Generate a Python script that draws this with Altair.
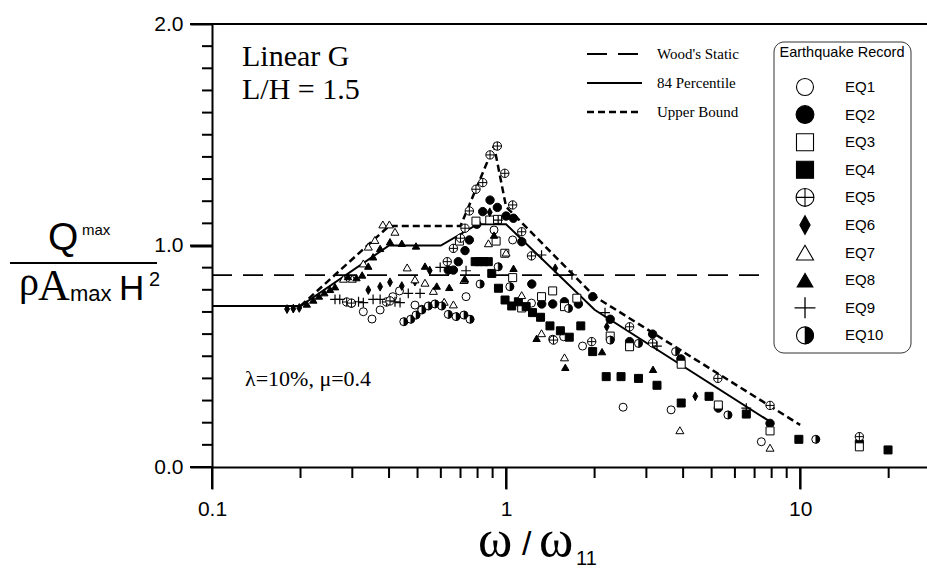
import altair as alt
import pandas as pd

W, H = 715, 443

# ---------------- data ----------------
EQ1_X = [0.298, 0.327, 0.350, 0.373, 0.412, 0.434, 0.490, 0.517, 0.731, 0.91, 1.053, 1.22, 1.44, 1.57, 1.82, 2.5, 3.64, 7.38]
EQ1_Y = [0.739, 0.701, 0.668, 0.709, 0.769, 0.795, 0.731, 0.712, 0.769, 1.07, 1.025, 0.74, 0.577, 0.588, 0.546, 0.27, 0.258, 0.114]

EQ2_X = [0.636, 0.662, 0.688, 0.725, 0.750, 0.795, 0.833, 0.882, 0.934, 1.0, 1.059, 1.131, 1.223, 1.322, 1.441, 1.579, 1.762, 1.971, 2.26, 2.63, 3.15, 3.93, 5.27, 7.9, 15.9]
EQ2_Y = [0.889, 0.889, 0.927, 0.977, 1.025, 1.096, 1.153, 1.205, 1.172, 1.133, 1.123, 1.017, 0.826, 0.736, 0.736, 0.746, 0.736, 0.769, 0.667, 0.566, 0.60, 0.488, 0.266, 0.197, 0.114]

EQ3_X = [0.694, 0.79, 0.88, 0.935, 0.925, 0.99, 1.053, 1.13, 1.32, 1.44, 1.58, 1.74, 2.26, 2.63, 3.94, 5.27, 7.9, 15.9]
EQ3_Y = [1.02, 1.11, 1.115, 1.118, 1.02, 0.965, 0.855, 0.718, 0.769, 0.795, 0.724, 0.762, 0.591, 0.543, 0.464, 0.28, 0.163, 0.091]

EQ4_X = [0.785, 0.81, 0.84, 0.87, 0.894, 0.942, 0.992, 1.045, 1.101, 1.17, 1.23, 1.31, 1.41, 1.53, 1.64, 1.795, 1.97, 2.19, 2.46, 2.82, 3.26, 3.94, 4.9, 6.56, 9.9, 19.9]
EQ4_Y = [0.927, 0.927, 0.927, 0.927, 0.874, 0.807, 0.754, 0.727, 0.746, 0.724, 0.697, 0.676, 0.637, 0.615, 0.586, 0.637, 0.521, 0.408, 0.408, 0.40, 0.369, 0.289, 0.319, 0.239, 0.125, 0.077]

EQ5_X = [0.287, 0.298, 0.392, 0.403, 0.631, 0.662, 0.70, 0.725, 0.75, 0.79, 0.833, 0.882, 0.934, 0.99, 1.053, 1.13, 1.22, 1.45, 1.955, 2.63, 3.15, 5.25, 7.9, 15.9]
EQ5_Y = [0.745, 0.74, 0.745, 0.75, 0.927, 0.987, 1.033, 1.078, 1.156, 1.254, 1.284, 1.409, 1.449, 1.326, 1.183, 1.062, 0.953, 0.573, 0.566, 0.633, 0.56, 0.40, 0.278, 0.137]

EQ6_X = [0.180, 0.189, 0.198, 0.340, 0.373, 0.403, 0.442, 0.490, 0.55, 0.88, 1.47, 2.2, 4.4]
EQ6_Y = [0.713, 0.715, 0.718, 0.799, 0.814, 0.834, 0.817, 0.837, 0.887, 1.15, 0.897, 0.633, 0.319]

EQ7_X = [0.28, 0.30, 0.381, 0.401, 0.419, 0.358, 0.340, 0.327, 0.461, 0.490, 0.530, 0.566, 0.616, 0.662, 0.719, 0.871, 1.0, 1.13, 1.32, 1.58, 3.9, 7.9]
EQ7_Y = [0.85, 0.85, 1.095, 1.095, 1.062, 1.025, 0.995, 0.919, 0.901, 0.847, 0.832, 0.795, 0.746, 0.734, 0.844, 1.01, 0.968, 0.776, 0.604, 0.495, 0.166, 0.087]

EQ8_X = [0.210, 0.221, 0.231, 0.241, 0.252, 0.262, 0.29, 0.31, 0.324, 0.340, 0.353, 0.373, 0.403, 0.442, 0.494, 0.530, 0.581, 0.641, 0.725, 0.91, 1.06, 1.27, 1.59, 2.12, 3.16, 6.56]
EQ8_Y = [0.736, 0.754, 0.772, 0.787, 0.802, 0.814, 0.86, 0.855, 0.867, 0.907, 0.949, 0.987, 1.017, 1.01, 0.998, 0.907, 0.817, 0.811, 0.849, 1.047, 0.897, 0.581, 0.45, 0.521, 0.441, 0.244]

EQ9_X = [0.262, 0.272, 0.315, 0.327, 0.353, 0.373, 0.419, 0.436, 0.465, 0.510, 0.597, 0.731, 0.94, 1.32, 1.675, 2.17, 3.26, 6.56]
EQ9_Y = [0.757, 0.757, 0.746, 0.742, 0.757, 0.757, 0.746, 0.742, 0.784, 0.784, 0.901, 0.886, 1.115, 0.957, 0.867, 0.697, 0.546, 0.266]

EQ10_X = [0.449, 0.474, 0.494, 0.517, 0.544, 0.573, 0.604, 0.636, 0.676, 0.719, 0.754, 0.816, 0.94, 1.03, 1.63, 2.26, 2.82, 3.77, 5.68, 11.3]
EQ10_Y = [0.656, 0.667, 0.686, 0.709, 0.727, 0.736, 0.727, 0.689, 0.679, 0.686, 0.667, 0.826, 0.904, 0.814, 0.716, 0.573, 0.558, 0.521, 0.235, 0.125]

WOOD_X = [0.1, 7.3]
WOOD_Y = [0.866, 0.866]
P84_X = [0.1, 0.2, 0.4, 0.6, 0.8, 1.0, 2.0, 8.0]
P84_Y = [0.727, 0.727, 1.0, 1.0, 1.096, 1.096, 0.71, 0.2]
UB_X = [0.2, 0.4, 0.7, 0.91, 1.0, 2.0, 10.0]
UB_Y = [0.727, 1.088, 1.088, 1.45, 1.175, 0.77, 0.19]

X_MAJOR = [0.1, 1, 10]
X_MINOR = [0.2, 0.3, 0.4, 0.5, 0.6, 0.7, 0.8, 0.9, 2, 3, 4, 5, 6, 7, 8, 9, 20]
Y_MAJOR = [0.0, 1.0, 2.0]
Y_MINOR = [0.1, 0.2, 0.3, 0.4, 0.5, 0.6, 0.7, 0.8, 0.9,
           1.1, 1.2, 1.3, 1.4, 1.5, 1.6, 1.7, 1.8, 1.9]

LINE_LABELS = ["Wood's Static", "84 Percentile", "Upper Bound"]
EQ_LABELS = ["EQ1", "EQ2", "EQ3", "EQ4", "EQ5", "EQ6", "EQ7", "EQ8", "EQ9", "EQ10"]

SERIES = {
    "EQ1": (EQ1_X, EQ1_Y), "EQ2": (EQ2_X, EQ2_Y), "EQ3": (EQ3_X, EQ3_Y),
    "EQ4": (EQ4_X, EQ4_Y), "EQ5": (EQ5_X, EQ5_Y), "EQ6": (EQ6_X, EQ6_Y),
    "EQ7": (EQ7_X, EQ7_Y), "EQ8": (EQ8_X, EQ8_Y), "EQ9": (EQ9_X, EQ9_Y),
    "EQ10": (EQ10_X, EQ10_Y),
}

SERIF = "Liberation Serif"
SANS = "Liberation Sans"

# ---------------- scales / axes ----------------
xaxis = alt.Axis(
    values=X_MAJOR, format="~g", ticks=True, tickSize=22,
    labelPadding=9, labelFont=SANS, labelFontSize=21, labelColor="black",
    labelFlush=False, labelOverlap=False, labelBaseline="top",
    domainColor="black", domainWidth=2, tickColor="black", tickWidth=2,
    grid=False, title=None,
)
yaxis = alt.Axis(
    values=Y_MAJOR, format=".1f", ticks=True, tickSize=22,
    labelPadding=7, labelFont=SANS, labelFontSize=21, labelColor="black",
    labelFlush=False, labelOverlap=False,
    domainColor="black", domainWidth=2, tickColor="black", tickWidth=2,
    grid=False, title=None,
)
XSC = alt.Scale(type="log", domain=[0.1, 27], nice=False)
YSC = alt.Scale(domain=[0, 2], nice=False, zero=False)
X = alt.X("x:Q", scale=XSC, axis=xaxis)
Y = alt.Y("y:Q", scale=YSC, axis=yaxis)


def line_df(xs, ys):
    return pd.DataFrame({"x": xs, "y": ys})


layers = []

# tick marks placed through the scales, centred half a tick length outside the axis line
def hticks(vals, length):
    return alt.Chart(pd.DataFrame({"y": vals})).mark_tick(
        orient="horizontal", size=length, thickness=2, color="black", opacity=1, clip=False
    ).encode(y=Y, x=alt.value(-length / 2))


def vticks(vals, length):
    return alt.Chart(pd.DataFrame({"x": vals})).mark_tick(
        orient="vertical", size=length, thickness=2, color="black", opacity=1, clip=False
    ).encode(x=X, y=alt.value(H + length / 2))


layers.append(hticks(Y_MINOR, 10))
layers.append(hticks(Y_MAJOR, 22))
layers.append(vticks(X_MINOR, 11))
layers.append(vticks(X_MAJOR, 22))

layers.append(alt.Chart(line_df(WOOD_X, WOOD_Y)).mark_line(color="black", strokeWidth=1.8, strokeDash=[20, 11]).encode(x=X, y=Y))
layers.append(alt.Chart(line_df(P84_X, P84_Y)).mark_line(color="black", strokeWidth=2).encode(x=X, y=Y))
layers.append(alt.Chart(line_df(UB_X, UB_Y)).mark_line(color="black", strokeWidth=2.5, strokeDash=[7, 4]).encode(x=X, y=Y))

CIRCLE_PLUS = "M-1,0A1,1,0,1,1,1,0A1,1,0,1,1,-1,0ZM-1,0L1,0M0,-1L0,1"
PLUS = "M-1,0L1,0M0,-1L0,1"
DIAMOND = "M0,-1L0.55,0L0,1L-0.55,0Z"
RIGHT_HALF = "M0,-1A1,1,0,0,1,0,1Z"

# style: list of (shape, fill, stroke, strokeWidth, size factor)
STYLE = {
    "EQ1": [("circle", "white", "black", 1, 1.0)],
    "EQ2": [("circle", "black", "black", 1, 1.1)],
    "EQ3": [("square", "white", "black", 1, 1.0)],
    "EQ4": [("square", "black", "black", 1, 1.0)],
    "EQ5": [(CIRCLE_PLUS, "white", "black", 1, 1.1)],
    "EQ6": [(DIAMOND, "black", "black", 1, 1.2)],
    "EQ7": [("triangle-up", "white", "black", 1, 1.0)],
    "EQ8": [("triangle-up", "black", "black", 1, 0.85)],
    "EQ9": [(PLUS, "none", "black", 1.2, 1.5)],
    "EQ10": [("circle", "white", "black", 1, 1.0), (RIGHT_HALF, "black", "black", 0.5, 1.0)],
}
BASE = 64
LEG_BASE = 290

for name in EQ_LABELS:
    xs, ys = SERIES[name]
    d = pd.DataFrame({"x": xs, "y": ys})
    for shape, fill, stroke, sw, k in STYLE[name]:
        layers.append(
            alt.Chart(d).mark_point(shape=shape, filled=True, fill=fill, stroke=stroke,
                                    strokeWidth=sw, size=BASE * k, opacity=1)
            .encode(x=X, y=Y)
        )

# ---------------- frame ----------------
one = pd.DataFrame({"a": [0]})
layers.append(alt.Chart(one).mark_rule(color="black", strokeWidth=2).encode(
    x=alt.value(0), x2=alt.value(W), y=alt.value(0)))


# ---------------- annotations ----------------
def txt(s, x, y, size, font, align="left", baseline="alphabetic"):
    return alt.Chart(pd.DataFrame({"t": [s]})).mark_text(
        text=s, font=font, fontSize=size, align=align, baseline=baseline, color="black"
    ).encode(x=alt.value(x), y=alt.value(y))


layers.append(txt("Linear G", 30, 42, 30, SERIF))
layers.append(txt("L/H = 1.5", 30, 75, 30, SERIF))
layers.append(txt("λ=10%, μ=0.4", 33, 362, 22, SERIF))

# x title: ω / ω_11
layers.append(txt("ω", 266, 532, 52, SERIF))
layers.append(txt("/", 310, 531, 34, SANS))
layers.append(txt("ω", 327, 532, 52, SERIF))
layers.append(txt("11", 364, 541, 20, SANS))

# y title (fraction)
layers.append(txt("Q", -164, 226, 39, SANS))
layers.append(txt("max", -130, 211, 15, SANS))
layers.append(alt.Chart(one).mark_rule(color="black", strokeWidth=2).encode(
    x=alt.value(-202), x2=alt.value(-55), y=alt.value(239)))
layers.append(txt("ρ", -193, 271, 40, SERIF))
layers.append(txt("A", -174, 276, 44, SERIF))
layers.append(txt("max", -142, 277, 22, SANS))
layers.append(txt("H", -93, 276, 35, SANS))
layers.append(txt("2", -63, 262, 20, SANS))

# ---------------- line legend ----------------
LINE_STYLES = [([20, 11], 1.8), (None, 2), ([7, 4], 2.5)]
for i, lab in enumerate(LINE_LABELS):
    ly = 30 + i * 29
    dash, sw = LINE_STYLES[i]
    kw = dict(color="black", strokeWidth=sw)
    if dash:
        kw["strokeDash"] = dash
    layers.append(alt.Chart(one).mark_rule(**kw).encode(
        x=alt.value(375), x2=alt.value(430), y=alt.value(ly)))
    layers.append(txt(lab, 445, ly, 15, SERIF, baseline="middle"))

# ---------------- symbol legend ----------------
layers.append(alt.Chart(one).mark_rect(fill="white", stroke="#333", strokeWidth=1, cornerRadius=10).encode(
    x=alt.value(562), x2=alt.value(699), y=alt.value(18), y2=alt.value(329)))
layers.append(txt("Earthquake Record", 630, 29, 14.5, SANS, align="center", baseline="middle"))
for i, name in enumerate(EQ_LABELS):
    ly = 63 + i * 27.6
    for shape, fill, stroke, sw, k in STYLE[name]:
        layers.append(
            alt.Chart(one).mark_point(shape=shape, filled=True, fill=fill, stroke=stroke,
                                      strokeWidth=sw * 1.1, size=LEG_BASE * k, opacity=1)
            .encode(x=alt.value(593), y=alt.value(ly))
        )
    layers.append(txt(name, 633, ly, 15, SANS, baseline="middle"))

chart = alt.layer(*layers).properties(
    width=W, height=H,
    padding={"left": 212, "top": 24, "right": 0, "bottom": 101},
    autosize=alt.AutoSizeParams(type="none"),
    background="white",
).configure_view(stroke=None).configure_axis(ticks=True, tickColor="black", tickWidth=2)

chart.save("out.html", embed_options={"renderer": "svg", "actions": False})
